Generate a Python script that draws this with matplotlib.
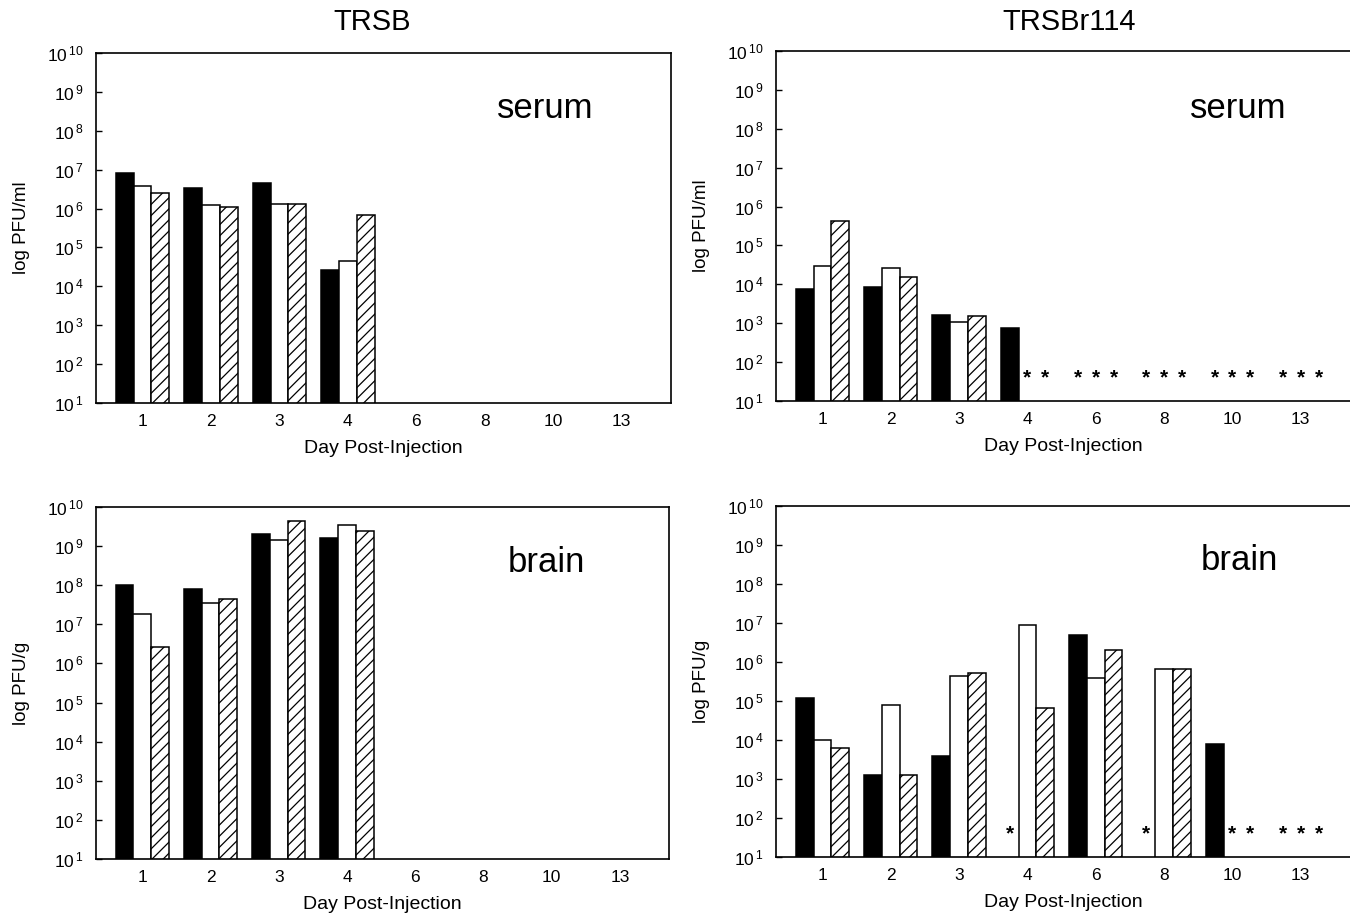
import numpy as np
import matplotlib
matplotlib.use('Agg')
from matplotlib import pyplot as plt

plt.rcParams['font.family'] = ['Liberation Sans', 'DejaVu Sans']
plt.rcParams['mathtext.default'] = 'regular'
plt.rcParams['hatch.linewidth'] = 0.9

days = ['1', '2', '3', '4', '6', '8', '10', '13']

# three animals per day: black, open, hatched  (None = nothing plotted)
trsb_serum_a = [8.0e6, 3.3e6, 4.6e6, 2.6e4, None, None, None, None]
trsb_serum_b = [3.8e6, 1.26e6, 1.3e6, 4.5e4, None, None, None, None]
trsb_serum_c = [2.5e6, 1.08e6, 1.3e6, 6.8e5, None, None, None, None]

r114_serum_a = [7.4e3, 8.7e3, 1.66e3, 7.6e2, None, None, None, None]
r114_serum_b = [2.9e4, 2.6e4, 1.1e3, None, None, None, None, None]
r114_serum_c = [4.3e5, 1.5e4, 1.5e3, None, None, None, None, None]

trsb_brain_a = [1.0e8, 8.1e7, 2.0e9, 1.6e9, None, None, None, None]
trsb_brain_b = [1.8e7, 3.5e7, 1.4e9, 3.4e9, None, None, None, None]
trsb_brain_c = [2.7e6, 4.5e7, 4.4e9, 2.4e9, None, None, None, None]

r114_brain_a = [1.2e5, 1.24e3, 3.8e3, None, 4.8e6, None, 7.9e3, None]
r114_brain_b = [1.0e4, 7.7e4, 4.4e5, 8.9e6, 3.8e5, 6.8e5, None, None]
r114_brain_c = [6.3e3, 1.26e3, 5.2e5, 6.6e4, 2.0e6, 6.6e5, None, None]

fig = plt.figure(figsize=(13.5, 9.14), dpi=100)

panels = [
    # rect, series, tissue label, ylabel, mark undetected with *, right spine, label pos
    ([0.0711, 0.5591, 0.4259, 0.3829], [trsb_serum_a, trsb_serum_b, trsb_serum_c], 'serum', 'log PFU/ml', False, True, (0.781, 0.814)),
    ([0.5748, 0.5613, 0.4252, 0.3829], [r114_serum_a, r114_serum_b, r114_serum_c], 'serum', 'log PFU/ml', True, False, (0.805, 0.809)),
    ([0.0711, 0.0602, 0.4244, 0.3851], [trsb_brain_a, trsb_brain_b, trsb_brain_c], 'brain', 'log PFU/g', False, True, (0.787, 0.815)),
    ([0.5748, 0.0624, 0.4252, 0.3840], [r114_brain_a, r114_brain_b, r114_brain_c], 'brain', 'log PFU/g', True, False, (0.807, 0.818)),
]

styles = [dict(color='black', hatch=None),
          dict(color='white', hatch=None),
          dict(color='white', hatch='///')]
w = 0.26
x = np.arange(len(days))

for rect, series, tissue, ylab, stars, rspine, tpos in panels:
    ax = fig.add_axes(rect)
    ax.set_yscale('log')
    for k, vals in enumerate(series):
        xs = x + (k - 1) * w
        for xi, v in zip(xs, vals):
            if v is None:
                if stars:
                    ax.text(xi, 10**1.6, '*', ha='center', va='center', fontsize=15, fontweight='bold')
                continue
            ax.bar(xi, v, width=w, color=styles[k]['color'], hatch=styles[k]['hatch'],
                   edgecolor='black', linewidth=1.1)
    ax.set_ylim(10, 1e10)
    ax.set_xlim(-0.68, 7.72)
    ax.set_yticks([10.0**e for e in range(1, 11)])
    ax.set_yticklabels([r'$10^{\,%d}$' % e for e in range(1, 11)])
    ax.yaxis.set_minor_locator(matplotlib.ticker.NullLocator())
    ax.set_xticks(x)
    ax.set_xticklabels(days)
    ax.tick_params(axis='y', direction='in', length=4, width=1, labelsize=12.5, pad=9)
    ax.tick_params(axis='x', length=0, labelsize=12.5, pad=8)
    for s in ax.spines.values():
        s.set_linewidth(1.2)
    ax.spines['right'].set_visible(rspine)
    ax.set_ylabel(ylab, fontsize=13.5, labelpad=12)
    ax.set_xlabel('Day Post-Injection', fontsize=14, labelpad=8)
    ax.text(tpos[0], tpos[1], tissue, transform=ax.transAxes, ha='center', va='baseline', fontsize=25)

fig.text(0.2756, 0.976, 'TRSB', ha='center', va='center', fontsize=21)
fig.text(0.792, 0.976, 'TRSBr114', ha='center', va='center', fontsize=21)

plt.savefig('out.png', dpi=100)
plt.close()
